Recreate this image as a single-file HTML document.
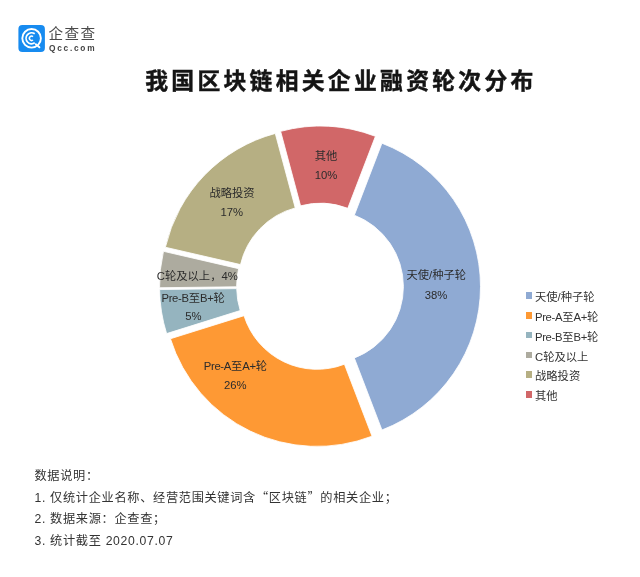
<!DOCTYPE html>
<html lang="zh-CN">
<head>
<meta charset="utf-8">
<title>我国区块链相关企业融资轮次分布</title>
<style>
html,body{margin:0;padding:0;background:#fff;}
body{width:640px;height:577px;position:relative;overflow:hidden;font-family:"Liberation Sans","Noto Sans CJK SC",sans-serif;color:#333;}
.abs{position:absolute;white-space:nowrap;}
#chart{position:absolute;left:0;top:0;width:640px;height:577px;}
.title{left:145.2px;top:61px;font-size:22.8px;font-weight:bold;color:#141414;-webkit-text-stroke:0.45px #141414;letter-spacing:3.3px;line-height:40px;}
.lbl{font-size:11.3px;color:#2c2c2c;line-height:14px;text-align:center;transform:translateX(-50%);}
.leg{font-size:11.3px;color:#333;line-height:14px;left:535px;}
.sq{position:absolute;left:525.6px;width:6.9px;height:6.5px;}
.note{left:34.5px;font-size:12.2px;letter-spacing:0.68px;color:#333;line-height:16px;}
.cjk{font-family:"Noto Sans CJK SC",sans-serif;}
.lat{letter-spacing:-0.35px;}
.brand{left:48.6px;top:25.4px;font-size:14.6px;color:#4a4a4a;letter-spacing:1.3px;line-height:18px;font-weight:400;}
.dom{left:49px;top:41.6px;font-size:8.3px;font-weight:bold;color:#444;letter-spacing:1.75px;line-height:12px;}
</style>
</head>
<body>
<svg id="chart" viewBox="0 0 640 577" width="640" height="577">
<g>
<path d="M381.95 143.20A153.6 153.6 0 0 1 381.95 430.00L354.32 358.02A76.5 76.5 0 0 0 354.32 215.18Z" fill="#8FAAD3" stroke="#fff" stroke-width="0.85"/>
<path d="M372.04 436.21A153.6 153.6 0 0 1 170.43 338.74L244.00 315.69A76.5 76.5 0 0 0 344.41 364.23Z" fill="#FE9934" stroke="#fff" stroke-width="0.85"/>
<path d="M166.61 333.62A153.6 153.6 0 0 1 159.60 289.56L236.69 288.62A76.5 76.5 0 0 0 240.19 310.56Z" fill="#95B4BF" stroke="#fff" stroke-width="0.85"/>
<path d="M159.55 287.74A153.6 153.6 0 0 1 163.48 251.31L238.60 268.65A76.5 76.5 0 0 0 236.65 286.80Z" fill="#ADAB9F" stroke="#fff" stroke-width="0.85"/>
<path d="M165.37 247.25A153.6 153.6 0 0 1 275.28 133.44L295.24 207.91A76.5 76.5 0 0 0 240.50 264.60Z" fill="#B6AF83" stroke="#fff" stroke-width="0.85"/>
<path d="M280.61 131.34A153.6 153.6 0 0 1 375.41 136.31L347.78 208.29A76.5 76.5 0 0 0 300.56 205.82Z" fill="#D16768" stroke="#fff" stroke-width="0.85"/>
</g>
<g id="logo">
<rect x="18.4" y="25" width="26.5" height="26.9" rx="4" ry="4" fill="#178BF0"/>
<circle cx="31.6" cy="38.3" r="9.3" fill="none" stroke="#fff" stroke-width="1.9"/>
<path d="M34.75 33.8A5.5 5.5 0 1 0 34.75 42.8" fill="none" stroke="#fff" stroke-width="1.75"/>
<path d="M33 36.6A2.2 2.2 0 1 0 33 40" fill="none" stroke="#fff" stroke-width="1.5"/>
<path d="M35.8 44.2L39.4 47.3" fill="none" stroke="#fff" stroke-width="1.9" stroke-linecap="round"/>
</g>
</svg>
<div class="abs brand">企查查</div>
<div class="abs dom">Qcc.com</div>
<div class="abs title">我国区块链相关企业融资轮次分布</div>

<div class="abs lbl" style="left:436.3px;top:268.2px;">天使/种子轮</div>
<div class="abs lbl" style="left:436px;top:287.7px;">38%</div>
<div class="abs lbl" style="left:235.4px;top:358.5px;"><span class="lat">Pre-A</span>至<span class="lat">A+</span>轮</div>
<div class="abs lbl" style="left:235.3px;top:377.7px;">26%</div>
<div class="abs lbl" style="left:193.1px;top:291px;"><span class="lat">Pre-B</span>至<span class="lat">B+</span>轮</div>
<div class="abs lbl" style="left:193.4px;top:309.3px;">5%</div>
<div class="abs lbl" style="left:197.3px;top:269.2px;">C轮及以上，4%</div>
<div class="abs lbl" style="left:232px;top:185.8px;">战略投资</div>
<div class="abs lbl" style="left:231.7px;top:205px;">17%</div>
<div class="abs lbl" style="left:326px;top:148.5px;">其他</div>
<div class="abs lbl" style="left:326px;top:167.7px;">10%</div>

<div class="sq" style="top:292.40px;background:#8FAAD3"></div><div class="abs leg" style="top:289.85px;">天使/种子轮</div>
<div class="sq" style="top:312.16px;background:#FE9934"></div><div class="abs leg" style="top:309.75px;"><span class="lat">Pre-A</span>至<span class="lat">A+</span>轮</div>
<div class="sq" style="top:331.92px;background:#95B4BF"></div><div class="abs leg" style="top:329.65px;"><span class="lat">Pre-B</span>至<span class="lat">B+</span>轮</div>
<div class="sq" style="top:351.68px;background:#ADAB9F"></div><div class="abs leg" style="top:349.55px;">C轮及以上</div>
<div class="sq" style="top:371.44px;background:#B6AF83"></div><div class="abs leg" style="top:369.45px;">战略投资</div>
<div class="sq" style="top:391.20px;background:#D16768"></div><div class="abs leg" style="top:389.35px;">其他</div>

<div class="abs note" style="top:467.7px;">数据说明：</div>
<div class="abs note" style="top:489.3px;">1. 仅统计企业名称、经营范围关键词含<span class="cjk">“</span>区块链<span class="cjk">”</span>的相关企业；</div>
<div class="abs note" style="top:510.8px;">2. 数据来源：企查查；</div>
<div class="abs note" style="top:532.7px;">3. 统计截至 2020.07.07</div>
</body>
</html>
